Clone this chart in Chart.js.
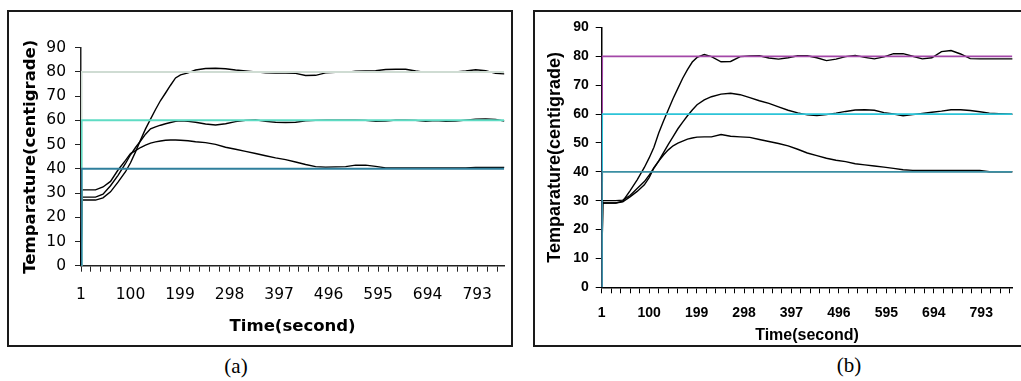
<!DOCTYPE html>
<html><head><meta charset="utf-8">
<script src="https://cdn.jsdelivr.net/npm/chart.js@4.4.1/dist/chart.umd.min.js"></script>
<style>
html,body{margin:0;padding:0;background:#fff;}
body{width:1021px;height:381px;position:relative;overflow:hidden;}
.box{position:absolute;border:2px solid #1a1a1a;box-sizing:border-box;}
#boxA{left:7px;top:10px;width:506px;height:337px;}
#boxB{left:533px;top:10px;width:500px;height:337px;}
canvas{position:absolute;}
#cA{left:9px;top:12px;}
#cB{left:535px;top:12px;}
.cap{position:absolute;font-family:"Liberation Serif","Times New Roman",serif;font-size:21px;color:#000;transform:translate(-50%,-50%);white-space:nowrap;}
</style></head>
<body>
<div class="box" id="boxA"></div>
<div class="box" id="boxB"></div>
<canvas id="cA" width="502" height="333"></canvas>
<canvas id="cB" width="486" height="333"></canvas>
<div class="cap" style="left:236px;top:366px">(a)</div>
<div class="cap" style="left:849px;top:365px">(b)</div>
<script>
// ---------- data ----------
const xTickLabels = [1, 100, 199, 298, 397, 496, 595, 694, 793];
const yTickStep = 10;
const yMax = 90;
const yTitle = 'Temparature(centigrade)';
const xTitle = 'Time(second)';

// panel (a)
const timeA = [1,3,30,45,60,75,90,100,110,120,130,140,150,160,170,180,190,200,215,230,250,270,290,310,330,350,370,390,410,430,450,470,490,510,530,550,570,590,610,630,650,670,690,710,730,750,770,790,810,830,847];
const a80 = [0,27.1,27.1,28.0,30.5,34.5,38.8,42.5,47.0,51.9,56.5,60.5,64.5,68.2,71.3,74.5,77.5,78.8,79.6,80.8,81.4,81.5,81.3,80.8,80.4,80.0,79.6,79.5,79.5,79.4,78.5,78.6,79.6,79.8,79.8,80.3,80.4,80.5,81.0,81.1,81.1,80.4,79.8,79.8,79.8,80.0,80.4,80.9,80.5,79.4,79.2];
const a60 = [0,28.3,28.3,29.5,33.0,37.3,42.2,45.8,48.8,51.5,54.3,56.5,57.3,58.0,58.6,59.1,59.6,59.8,59.6,59.2,58.5,58.1,58.6,59.5,60.0,60.2,59.6,59.2,59.1,59.2,59.8,60.0,60.1,60.1,60.1,60.1,60.0,59.6,59.7,60.1,60.1,60.0,59.6,59.9,59.6,59.7,60.1,60.5,60.6,60.4,59.7];
const a40 = [0,31.3,31.3,32.5,34.8,39.5,43.5,46.3,47.5,48.8,49.8,50.6,51.1,51.5,51.8,51.9,51.9,51.8,51.6,51.2,50.8,50.1,48.9,48.1,47.2,46.3,45.4,44.5,43.8,42.8,41.8,40.9,40.7,40.8,40.9,41.5,41.5,41.0,40.4,40.4,40.4,40.4,40.4,40.4,40.4,40.4,40.4,40.6,40.6,40.6,40.6];
const setTimeA = [1, 2, 847];
const spA80 = [0, 80, 80];
const spA60 = [0, 60, 60];
const spA40 = [0, 40, 40];

// panel (b)
const timeB = [1,3,30,45,60,75,90,100,110,120,130,140,150,160,170,180,190,200,215,230,250,270,290,310,330,350,370,390,410,430,450,470,490,510,530,550,570,590,610,630,650,670,690,710,730,750,770,790,810,830,858];
const b80 = [0,29.2,29.2,29.8,33.4,37.2,41.5,44.8,48.5,53.4,57.6,61.5,65.4,68.9,72.4,75.4,78.0,79.6,80.6,79.9,78.1,78.2,79.9,80.1,80.2,79.4,79.0,79.5,80.2,80.2,79.5,78.5,79.0,79.9,80.3,79.6,79.1,79.8,80.9,80.9,80.0,79.1,79.5,81.6,82.0,80.8,79.2,79.1,79.1,79.1,79.1];
const b60 = [0,29.2,29.2,29.6,31.3,33.2,35.5,38.0,41.3,43.8,46.6,49.5,52.2,54.9,57.2,59.4,61.4,63.2,64.9,66.0,66.9,67.2,66.7,65.7,64.6,63.7,62.5,61.3,60.4,59.7,59.5,59.8,60.3,60.9,61.4,61.5,61.3,60.5,60.0,59.4,59.8,60.2,60.6,61.0,61.5,61.5,61.2,60.8,60.3,60.1,59.9];
const b40 = [0,30.0,30.0,30.2,31.8,34.2,36.6,38.8,41.4,43.7,45.8,47.6,49.0,49.9,50.6,51.3,51.7,52.0,52.1,52.1,52.9,52.3,52.1,51.9,51.2,50.5,49.8,49.0,47.8,46.5,45.6,44.7,44.0,43.5,42.8,42.4,42.0,41.6,41.2,40.7,40.5,40.5,40.5,40.5,40.5,40.5,40.5,40.5,40.0,40.0,40.0];
const setTimeB = [1, 2, 858];
const spB80 = [0, 80, 80];
const spB60 = [0, 60, 60];
const spB40 = [0, 40, 40];

// ---------- chart builder ----------
const pts = (ts, vs) => ts.map((t, i) => ({x: t, y: vs[i]}));

function build(id, o) {
  const step = (xTickLabels[1] - xTickLabels[0]) / 5;
  const tickVals = [];
  for (let i = 0; ; i++) {
    const v = xTickLabels[0] + i * step;
    if (v > o.xMax) break;
    tickVals.push(v);
  }
  const setDs = (data, color) => ({data, borderColor: color, borderWidth: o.setWidth, pointRadius: 0, tension: 0, fill: false});
  const curDs = (data) => ({data, borderColor: '#000', borderWidth: 1.4, pointRadius: 0, tension: 0, fill: false, clip: false});
  new Chart(document.getElementById(id), {
    type: 'line',
    data: {
      datasets: [
        setDs(pts(o.setTime, o.sp[2]), o.colors[2]),
        setDs(pts(o.setTime, o.sp[1]), o.colors[1]),
        setDs(pts(o.setTime, o.sp[0]), o.colors[0]),
        curDs(pts(o.time, o.cur[0])),
        curDs(pts(o.time, o.cur[1])),
        curDs(pts(o.time, o.cur[2]))
      ]
    },
    options: {
      responsive: false,
      animation: false,
      devicePixelRatio: 1,
      layout: {padding: {top: o.padTop, left: 0, right: 0, bottom: 0}},
      plugins: {legend: {display: false}, tooltip: {enabled: false}},
      events: [],
      scales: {
        x: {
          type: 'linear', min: 1, max: o.xMax,
          afterBuildTicks: s => { s.ticks = tickVals.map(v => ({value: v})); },
          afterFit: s => { s.height = o.xH; },
          ticks: {autoSkip: false, maxRotation: 0, minRotation: 0, padding: o.xTickPad, color: '#000',
                  font: o.tickFont,
                  callback: (v, i) => (i % 5 === 0 ? String(xTickLabels[i / 5]) : '')},
          grid: {drawOnChartArea: false, drawTicks: true, tickLength: 6, color: o.axisColor, lineWidth: 1},
          border: {display: true, color: o.axisColor, width: 1.5},
          title: {display: true, text: xTitle, color: '#000', font: o.xTitleFont, padding: {top: 0, bottom: o.xTitlePad}}
        },
        y: {
          min: 0, max: yMax,
          afterFit: s => { s.width = o.yW; },
          ticks: {stepSize: yTickStep, padding: o.yTickPad, color: '#000', font: o.tickFont},
          grid: {drawOnChartArea: false, drawTicks: true, tickLength: 6, color: o.axisColor, lineWidth: 1},
          border: {display: true, color: o.axisColor, width: 1.5},
          title: {display: true, text: yTitle, color: '#000', font: o.yTitleFont, padding: {top: o.yTitlePad, bottom: 0}}
        }
      }
    }
  });
}

build('cA', {
  xMax: 847, time: timeA, cur: [a80, a60, a40], setTime: setTimeA, sp: [spA80, spA60, spA40],
  colors: ['#cfdcd3', '#5fdcc4', '#2f7f9c'], setWidth: 2,
  padTop: 35.7, xH: 79.3, yW: 72, xTickPad: 14, yTickPad: 9, xTitlePad: 8.7, yTitlePad: 11.9,
  axisColor: '#222',
  tickFont: {family: '"DejaVu Sans", Verdana, sans-serif', size: 15.5},
  xTitleFont: {family: '"DejaVu Sans", Verdana, sans-serif', size: 16.5, weight: 'bold', lineHeight: 1.2},
  yTitleFont: {family: '"DejaVu Sans", Verdana, sans-serif', size: 16.5, weight: 'bold', lineHeight: 1.2}
});

build('cB', {
  xMax: 858, time: timeB, cur: [b80, b60, b40], setTime: setTimeB, sp: [spB80, spB60, spB40],
  colors: ['#a347a8', '#2cc4d8', '#3b8fa3'], setWidth: 1.8,
  padTop: 14.7, xH: 57.7, yW: 66.7, xTickPad: 11.3, yTickPad: 7, xTitlePad: 0, yTitlePad: 9.7,
  axisColor: '#000',
  tickFont: {family: '"Liberation Sans", Arial, sans-serif', size: 14, weight: 'bold'},
  xTitleFont: {family: '"Liberation Sans", Arial, sans-serif', size: 16, weight: 'bold', lineHeight: 1.2},
  yTitleFont: {family: '"Liberation Sans", Arial, sans-serif', size: 18, weight: 'bold', lineHeight: 1.2}
});
</script>
</body></html>
